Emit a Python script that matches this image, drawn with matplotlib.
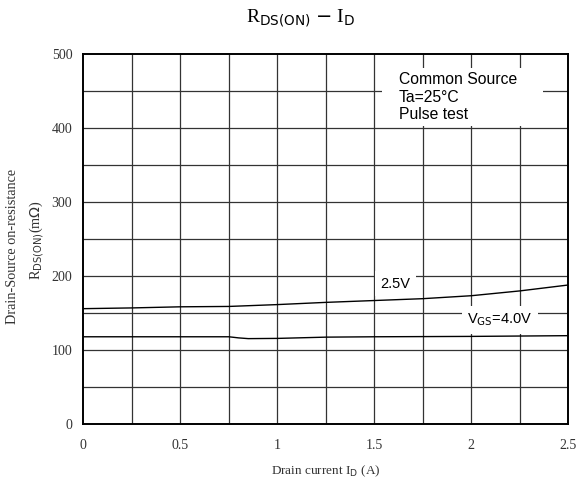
import numpy as np
import matplotlib.pyplot as plt
from matplotlib.patches import Rectangle

# drain current (A) and on-resistance (mOhm)
id_25 = [0.0, 0.25, 0.5, 0.75, 1.0, 1.25, 1.5, 1.75, 2.0, 2.25, 2.5]
rds_25 = [156, 157, 158.5, 159, 161.5, 164.5, 167, 169.5, 173.5, 180, 188]

id_40 = [0.0, 0.25, 0.5, 0.75, 0.8, 0.85, 1.0, 1.25, 1.5, 2.0, 2.5]
rds_40 = [118, 118, 118, 118, 116.5, 115.5, 115.8, 117.5, 118, 118.5, 119.5]

xticks = [0, 0.5, 1, 1.5, 2, 2.5]
xtick_labels = ['0', '0.5', '1', '1.5', '2', '2.5']
yticks = [0, 100, 200, 300, 400, 500]

serif = ['Liberation Serif', 'DejaVu Serif']
sans = ['Liberation Sans', 'DejaVu Sans']

fig = plt.figure(figsize=(5.77, 4.88), dpi=100)
ax = fig.add_axes([0.1445, 0.131, 0.8405, 0.758])

ax.set_xlim(0, 2.5)
ax.set_ylim(0, 500)

# grid every 0.25 A and 50 mOhm
for gx in np.arange(0.25, 2.5, 0.25):
    ax.axvline(gx, color='#333333', lw=0.9, zorder=1)
for gy in np.arange(50, 500, 50):
    ax.axhline(gy, color='#333333', lw=0.9, zorder=1)

ax.plot(id_25, rds_25, color='black', lw=1.0, zorder=3)
ax.plot(id_40, rds_40, color='black', lw=1.0, zorder=3)

for s in ax.spines.values():
    s.set_linewidth(1.4)

ax.set_xticks(xticks)
ax.set_xticklabels(xtick_labels, family=serif, fontsize=10, color='#333333')
ax.set_yticks(yticks)
ax.set_yticklabels([str(v) for v in yticks], family=serif, fontsize=10, color='#333333')
ax.tick_params(axis='x', length=0, pad=11)
ax.tick_params(axis='y', length=0, pad=8)

# white panel behind the measurement conditions
ax.add_patch(Rectangle((1.54, 403), 0.83, 78, facecolor='white', edgecolor='none', zorder=2))
ax.text(1.625, 442, 'Common Source\nTa=25°C\nPulse test', family=sans, fontsize=11.3,
        va='center', ha='left', linespacing=1.2, zorder=4)
ax.text(1.53, 190, '2.5V', family=sans, fontsize=10.5, va='center', ha='left', zorder=4,
        bbox=dict(facecolor='white', edgecolor='none', pad=4))
ax.text(1.98, 141, r'V$_{\mathrm{GS}}$=4.0V', family=sans, fontsize=10.5, va='center',
        ha='left', zorder=4, bbox=dict(facecolor='white', edgecolor='none', pad=4))

ax.set_xlabel(r'Drain current I$_{\mathrm{D}}$ (A)', family=serif, fontsize=9.5,
              color='#333333', labelpad=8)

# two-line y axis title
fig.text(0.021, 0.496, 'Drain-Source on-resistance', family=serif, fontsize=10.3,
         color='#333333', rotation=90, ha='center', va='center')
fig.text(0.064, 0.508, r'R$_{\mathrm{DS(ON)}}$(m$\Omega$)', family=serif, fontsize=10.3,
         color='#333333', rotation=90, ha='center', va='center')

fig.text(0.52, 0.963, r'R$_{\mathrm{DS(ON)}}$ $-$ I$_{\mathrm{D}}$', family=serif,
         fontsize=14, ha='center', va='center')

fig.savefig('out.png', dpi=100)
